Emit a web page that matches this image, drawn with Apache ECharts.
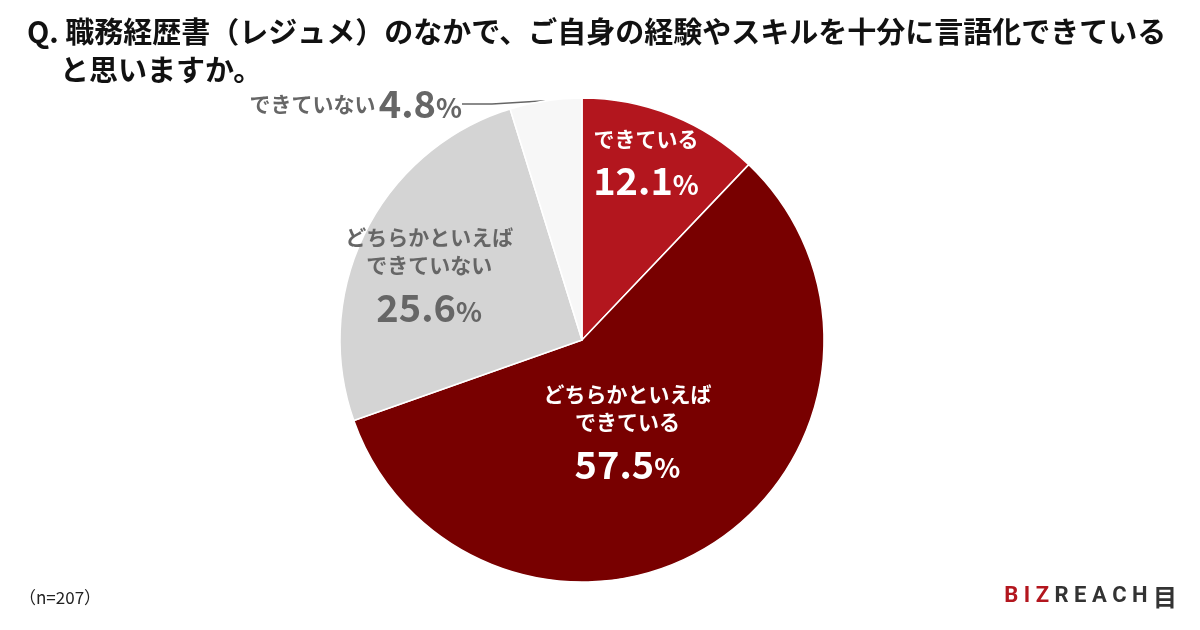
<!DOCTYPE html>
<html><head><meta charset="utf-8">
<script src="https://cdn.jsdelivr.net/npm/echarts@6/dist/echarts.min.js"></script>
<style>html,body{margin:0;background:#fff}#c{width:1200px;height:630px}</style>
</head><body><div id="c"></div>
<script>
const categories = ['できている', 'どちらかといえば\nできている', 'どちらかといえば\nできていない', 'できていない'];
const values = [12.1, 57.5, 25.6, 4.8];
const colors = ['#B3161E', '#780000', '#D4D4D4', '#F7F7F7'];
const offsets = [[18, -58], [-22, -8], [-42, -5], [0, 0]];

const font = '"Noto Sans CJK JP", sans-serif';
const chart = echarts.init(document.getElementById('c'));

const data = values.map((v, i) => {
  const white = i < 2;
  const item = {
    name: categories[i], value: v,
    itemStyle: { color: colors[i] },
    label: {
      position: 'inside', offset: offsets[i],
      formatter: '{n|{b}}\n{p|{c}}{s|%}',
      rich: {
        n: { fontSize: 21, fontWeight: 'bold', color: white ? '#fff' : '#666', lineHeight: 28, fontFamily: font },
        p: { fontSize: 38, fontWeight: 'bold', color: white ? '#fff' : '#666', lineHeight: 56, fontFamily: font },
        s: { fontSize: 27, fontWeight: 'bold', color: white ? '#fff' : '#666', lineHeight: 56, padding: [8, 0, 0, 0], fontFamily: font }
      }
    }
  };
  if (i === 3) {
    item.label = {
      position: 'outside',
      formatter: '{n|{b}} {p|{c}}{s|%}',
      rich: {
        n: { fontSize: 21, fontWeight: 'bold', color: '#666', fontFamily: font },
        p: { fontSize: 38, fontWeight: 'bold', color: '#666', fontFamily: font },
        s: { fontSize: 27, fontWeight: 'bold', color: '#666', padding: [8, 0, 0, 0], fontFamily: font }
      }
    };
    item.labelLine = { show: true, lineStyle: { color: '#666', width: 1.5 } };
  }
  return item;
});

chart.setOption({
  animation: false,
  title: [{
    text: 'Q. 職務経歴書（レジュメ）のなかで、ご自身の経験やスキルを十分に言語化できている\n     と思いますか。',
    left: 22, top: 8,
    textStyle: { fontSize: 29, fontWeight: 'bold', color: '#111', lineHeight: 38, fontFamily: font }
  }, {
    text: '（n=207）', left: 14, top: 584,
    textStyle: { fontSize: 17, fontWeight: 'normal', color: '#222', fontFamily: font }
  }, {
    text: '{a|B I Z }{b|R E A C H }{c|目}', right: 18, top: 580,
    textStyle: {
      rich: {
        a: { fontSize: 22, color: '#B3161E', fontFamily: 'Roboto' },
        b: { fontSize: 22, color: '#333', fontFamily: 'Roboto' },
        c: { fontSize: 24, color: '#333', fontFamily: font }
      }
    }
  }],
  series: [{
    type: 'pie',
    center: [582, 340],
    radius: [0, 242],
    startAngle: 90,
    clockwise: true,
    itemStyle: { borderColor: '#fff', borderWidth: 1.5 },
    labelLine: { show: false },
    labelLayout: (p) => p.dataIndex === 3
      ? { x: 462, y: 104, align: 'right', verticalAlign: 'middle' } : {},
    data: data
  }]
});
</script></body></html>
